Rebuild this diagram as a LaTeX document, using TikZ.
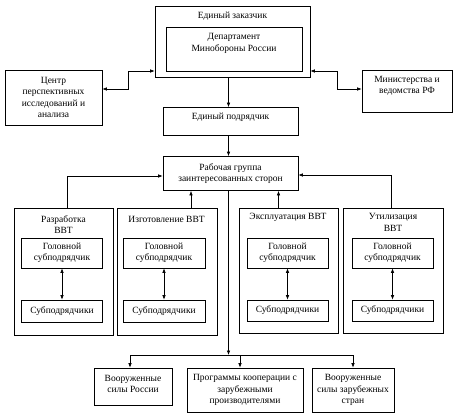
\documentclass[tikz,border=0pt]{standalone}
\usepackage{fontspec}
\setmainfont{Liberation Serif}
\usetikzlibrary{arrows.meta}

\begin{document}
\begin{tikzpicture}[x=1pt,y=-1pt,font=\fontsize{9.5}{11.5}\selectfont,
  box/.style={draw,line width=0.6pt,inner sep=0pt,align=center},
  txt/.style={inner sep=0pt,align=center},
  arr/.style={-{Latex[length=4.5pt,width=3.5pt]},line width=0.6pt},
  dbl/.style={{Latex[length=4.5pt,width=3.5pt]}-{Latex[length=4.5pt,width=3.5pt]},line width=0.6pt}]
\useasboundingbox (0,0) rectangle (460,417);

% заказчик и партнеры
\node[box,minimum width=155pt,minimum height=71pt] (zak) at (232.5,41.5) {};
\node[txt] (zakT) at (232.5,16.5) {Единый заказчик};
\node[box,minimum width=136pt,minimum height=44pt] (dep) at (234,49) {};
\node[txt] (depT) at (234,43.5) {Департамент\\Минобороны России};
\node[box,minimum width=97pt,minimum height=55pt] (cpi) at (53.5,97.5) {Центр\\перспективных\\исследований и\\анализа};
\node[box,minimum width=90pt,minimum height=42pt] (min) at (407,91) {};
\node[txt] (minT) at (407,86) {Министерства и\\ведомства РФ};
\node[box,minimum width=135pt,minimum height=28pt] (podr) at (230.5,121.5) {};
\node[txt] (podrT) at (230.5,117) {Единый подрядчик};
\node[box,minimum width=135pt,minimum height=34pt] (rg) at (230.5,173.5) {Рабочая группа\\заинтересованных сторон};

% этапы
\node[box,minimum width=99pt,minimum height=127pt] (ph1) at (63.5,271.5) {};
\node[txt] (ph1T) at (63.5,224.5) {Разработка\\ВВТ};
\node[box,minimum width=100pt,minimum height=127pt] (ph2) at (167,271.5) {};
\node[txt] (ph2T) at (166.5,219) {Изготовление ВВТ};
\node[box,minimum width=99pt,minimum height=125pt] (ph3) at (288.5,270.5) {};
\node[txt] (ph3T) at (288,217) {Эксплуатация ВВТ};
\node[box,minimum width=100pt,minimum height=125pt] (ph4) at (393,270.5) {};
\node[txt] (ph4T) at (393,222.5) {Утилизация\\ВВТ};

\node[box,minimum width=81pt,minimum height=30pt] (gs1) at (62,253) {Головной\\субподрядчик};
\node[box,minimum width=82pt,minimum height=30pt] (gs2) at (164,253) {Головной\\субподрядчик};
\node[box,minimum width=81pt,minimum height=30pt] (gs3) at (287.5,253) {Головной\\субподрядчик};
\node[box,minimum width=81pt,minimum height=30pt] (gs4) at (392.5,253) {Головной\\субподрядчик};
\node[box,minimum width=81pt,minimum height=22pt] (sp1) at (62,311) {Субподрядчики};
\node[box,minimum width=82pt,minimum height=22pt] (sp2) at (164,311) {Субподрядчики};
\node[box,minimum width=81pt,minimum height=21pt] (sp3) at (287.5,310.5) {Субподрядчики};
\node[box,minimum width=81pt,minimum height=21pt] (sp4) at (392.5,310.5) {Субподрядчики};

% потребители
\node[box,minimum width=78pt,minimum height=37pt] (bA) at (133,386.5) {};
\node[txt] (bAT) at (133,384) {Вооруженные\\силы России};
\node[box,minimum width=116pt,minimum height=44pt] (bB) at (245,390) {Программы кооперации с\\зарубежными\\производителями};
\node[box,minimum width=82pt,minimum height=44pt] (bC) at (353,390) {Вооруженные\\силы зарубежных\\стран};

% связи
\coordinate (a1) at (128,89);
\coordinate (a2) at (128,71);
\draw[dbl] (cpi.east |- a1) -- (a1) -- (a2) -- (zak.west |- a2);
\coordinate (b1) at (337,71);
\coordinate (b2) at (337,89);
\draw[dbl] (zak.east |- b1) -- (b1) -- (b2) -- (min.west |- b2);
\coordinate (mid) at (228.5,355);
\draw[arr] (zak.south -| mid) -- (podr.north -| mid);
\draw[arr] (podr.south -| mid) -- (rg.north -| mid);
\draw[arr] (rg.south -| mid) -- (mid);

\coordinate (c1) at (67,176);
\coordinate (c2) at (191,0);
\coordinate (c3) at (278.5,0);
\coordinate (c4) at (391,175);
\draw[arr] (ph1.north -| c1) -- (c1) -- (rg.west |- c1);
\draw[arr] (ph2.north -| c2) -- (rg.south -| c2);
\draw[arr] (ph3.north -| c3) -- (rg.south -| c3);
\draw[arr] (ph4.north -| c4) -- (c4) -- (rg.east |- c4);

\draw[dbl] (gs1) -- (sp1);
\draw[dbl] (gs2) -- (sp2);
\draw[dbl] (gs3) -- (sp3);
\draw[dbl] (gs4) -- (sp4);

\coordinate (h1) at (130,355);
\coordinate (h2) at (240,355);
\coordinate (h3) at (353,355);
\draw[line width=0.6pt] (h1) -- (h3);
\draw[arr] (h1) -- (bA.north -| h1);
\draw[arr] (h2) -- (bB.north -| h2);
\draw[arr] (h3) -- (bC.north -| h3);
\end{tikzpicture}
\end{document}
